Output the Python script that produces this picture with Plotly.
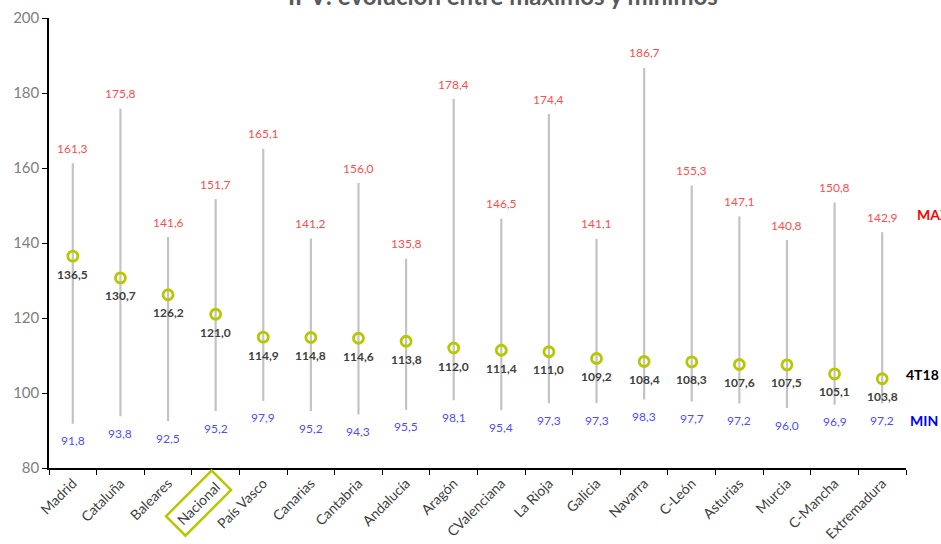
import plotly.graph_objects as go

categories = ["Madrid", "Cataluña", "Baleares", "Nacional", "País Vasco", "Canarias",
              "Cantabria", "Andalucía", "Aragón", "CValenciana", "La Rioja", "Galicia",
              "Navarra", "C-León", "Asturias", "Murcia", "C-Mancha", "Extremadura"]
max_vals = [161.3, 175.8, 141.6, 151.7, 165.1, 141.2, 156.0, 135.8, 178.4, 146.5,
            174.4, 141.1, 186.7, 155.3, 147.1, 140.8, 150.8, 142.9]
cur_vals = [136.5, 130.7, 126.2, 121.0, 114.9, 114.8, 114.6, 113.8, 112.0, 111.4,
            111.0, 109.2, 108.4, 108.3, 107.6, 107.5, 105.1, 103.8]
min_vals = [91.8, 93.8, 92.5, 95.2, 97.9, 95.2, 94.3, 95.5, 98.1, 95.4,
            97.3, 97.3, 98.3, 97.7, 97.2, 96.0, 96.9, 97.2]
y_ticks = [80, 100, 120, 140, 160, 180, 200]
highlight = "Nacional"

FONT = "Lato, 'Open Sans', sans-serif"
GREEN = "#b8c800"

def fmt(v):
    return f"{v:.1f}".replace(".", ",")

lx, ly = [], []
for c, lo, hi in zip(categories, min_vals, max_vals):
    lx += [c, c, None]
    ly += [lo, hi, None]

fig = go.Figure()
fig.add_trace(go.Scatter(x=lx, y=ly, mode="lines",
                         line=dict(color="#c3c3c3", width=2.2),
                         hoverinfo="skip", showlegend=False))
fig.add_trace(go.Scatter(x=categories, y=cur_vals, mode="markers",
                         marker=dict(symbol="circle-open", size=10, color=GREEN,
                                     line=dict(color=GREEN, width=2.8)),
                         showlegend=False))

ann = []
for c, hi, cu, lo in zip(categories, max_vals, cur_vals, min_vals):
    ann.append(dict(x=c, y=hi, text=fmt(hi), showarrow=False, yshift=15,
                    font=dict(family=FONT, size=12, color="#ff4d4d")))
    ann.append(dict(x=c, y=cu, text=f"<b>{fmt(cu)}</b>", showarrow=False, yshift=-18,
                    font=dict(family=FONT, size=12, color="#404040")))
    ann.append(dict(x=c, y=lo, text=fmt(lo), showarrow=False, yshift=-17,
                    font=dict(family=FONT, size=12, color="#4d4dff")))

# right-side legend labels
ann.append(dict(x=1.01, xref="paper", y=147.5, xanchor="left", text="<b>MAX</b>", showarrow=False,
                font=dict(family=FONT, size=14, color="#ff0000")))
ann.append(dict(x=0.998, xref="paper", y=105, xanchor="left", text="<b>4T18</b>", showarrow=False,
                font=dict(family=FONT, size=14, color="#000000")))
ann.append(dict(x=1.002, xref="paper", y=92.8, xanchor="left", text="<b>MIN</b>", showarrow=False,
                font=dict(family=FONT, size=14, color="#0000ff")))

# highlighted category label with rotated box
ann.append(dict(x=highlight, y=80, yshift=-35, xshift=-17, text=highlight, showarrow=False,
                textangle=-45, font=dict(family=FONT, size=14, color="#404040"),
                bordercolor=GREEN, borderwidth=2.5, borderpad=4))

# title (cut off at top like the reference)
ann.append(dict(x=0.53, xref="paper", y=1.049, yref="paper", yanchor="middle",
                text="<b>IPV: evolución entre máximos y mínimos</b>", showarrow=False,
                font=dict(family=FONT, size=24, color="#595959")))

ticktext = ["" if c == highlight else c for c in categories]

fig.update_layout(
    width=941, height=544,
    margin=dict(l=49, r=35, t=18, b=76, autoexpand=False),
    paper_bgcolor="white", plot_bgcolor="white",
    annotations=ann,
    xaxis=dict(type="category", tickmode="array", tickvals=categories, ticktext=ticktext,
               tickangle=-45, tickson="boundaries", ticks="outside", ticklen=5,
               tickcolor="black", showline=True, linecolor="black", linewidth=1.5,
               showgrid=False, automargin=False,
               tickfont=dict(family=FONT, size=14, color="#404040"),
               range=[-0.5, len(categories) - 0.5]),
    yaxis=dict(range=[80, 200], tickvals=y_ticks, ticks="outside", ticklen=5,
               tickcolor="black", showline=True, linecolor="black", linewidth=1.5,
               showgrid=False, zeroline=False, automargin=False,
               tickfont=dict(family=FONT, size=15, color="#808080")),
)

fig.write_html("out.html", config={"displayModeBar": False},
               post_script="document.body.style.margin='0';document.body.style.overflow='hidden';")
